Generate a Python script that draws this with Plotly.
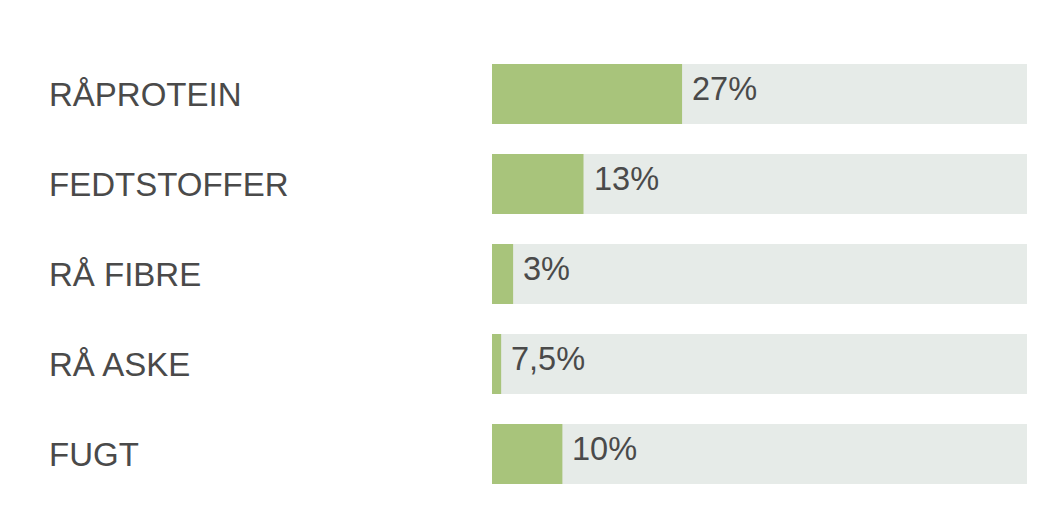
import plotly.graph_objects as go

categories = ["RÅPROTEIN", "FEDTSTOFFER", "RÅ FIBRE", "RÅ ASKE", "FUGT"]
bar_values = [27, 13, 3, 1.3, 10]
value_labels = ["27%", "13%", "3%", "7,5%", "10%"]
scale_max = 76
track_values = [scale_max] * len(categories)

GREEN = "#A8C47B"
TRACK = "#E6EBE8"
TEXT = "#4A4A4A"
FONT = "Liberation Sans, Arial, Helvetica, sans-serif"

fig = go.Figure()
fig.add_trace(go.Bar(y=categories, x=track_values, orientation="h",
                     marker=dict(color=TRACK, line=dict(width=0)),
                     hoverinfo="skip", showlegend=False))
fig.add_trace(go.Bar(y=categories, x=bar_values, orientation="h",
                     marker=dict(color=GREEN, line=dict(width=0)),
                     showlegend=False))

annotations = []
for cat, v, lab in zip(categories, bar_values, value_labels):
    annotations.append(dict(x=v, y=cat, xref="x", yref="y", text=lab,
                            showarrow=False, xanchor="left", yanchor="middle",
                            xshift=8, yshift=5,
                            font=dict(family=FONT, size=32.5, color=TEXT)))
    annotations.append(dict(x=(47 - 492) / 535, y=cat, xref="paper", yref="y",
                            text=cat, showarrow=False, xanchor="left",
                            yanchor="middle", yshift=0,
                            font=dict(family=FONT, size=33, color=TEXT)))

fig.update_layout(
    width=1050, height=528,
    margin=dict(l=492, r=23, t=49, b=29),
    barmode="overlay", bargap=1/3,
    paper_bgcolor="white", plot_bgcolor="white",
    xaxis=dict(range=[0, scale_max], visible=False, fixedrange=True),
    yaxis=dict(autorange="reversed", visible=False, fixedrange=True),
    annotations=annotations,
)

fig.write_html("out.html", config={"displayModeBar": False})
